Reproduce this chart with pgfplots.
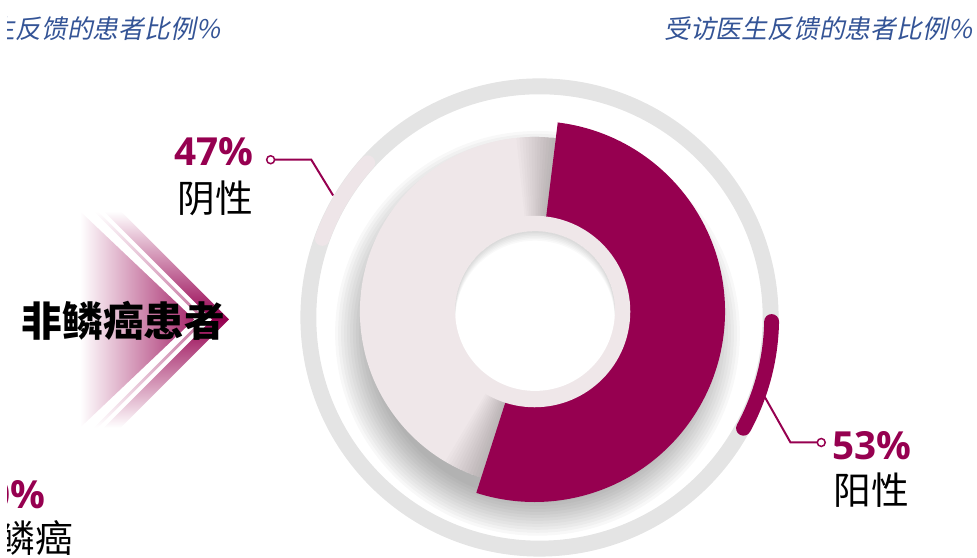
\documentclass[border=0pt]{standalone}
\usepackage{pgfplots}
\pgfplotsset{compat=1.18}
\usepackage{pgfplotstable}
\usepackage{fontspec}
\setmainfont{Open Sans}
\newfontfamily\cjk{Noto Sans CJK SC}
\newfontfamily\cjkit{Noto Sans CJK SC}[FakeSlant=0.2]
\definecolor{mag}{RGB}{150,0,80}
\definecolor{lightseg}{RGB}{239,231,233}
\definecolor{ringgray}{RGB}{228,228,228}
\definecolor{lightarc}{RGB}{238,229,232}
\definecolor{titleblue}{RGB}{52,84,150}

\pgfplotstableread{
group value
pos 53
neg 47
}\pietable

\begin{document}
\pgfplotstablegetelem{0}{value}\of\pietable \let\posval\pgfplotsretval
\pgfplotstablegetelem{1}{value}\of\pietable \let\negval\pgfplotsretval
\pgfmathsetmacro\startA{83}
\pgfmathsetmacro\endD{\startA-3.6*\posval}
\pgfmathsetmacro\endL{\startA+3.6*\negval}
\begin{tikzpicture}[x=1pt,y=1pt]
\useasboundingbox (0,0) rectangle (977,-562);
\clip (0,0) rectangle (977,-562);
\begin{axis}[at={(0,0)},anchor=origin,width=977pt,height=562pt,scale only axis,
  xmin=0,xmax=977,ymin=0,ymax=562,y dir=reverse,hide axis,clip=false]
% outer ring
\draw[ringgray,line width=16pt] (536,320) circle[radius=233pt];
\draw[lightarc,line width=15pt,line cap=round] (536,320) ++(138:233pt) arc[start angle=138,end angle=160,radius=233pt];
\draw[mag,line width=15pt,line cap=round] (536,320) ++(-1:234pt) arc[start angle=-1,end angle=-28.5,radius=234pt];
% soft shadow
\pgfplotsinvokeforeach{168,171,...,204}{\fill[black,opacity=0.026] (534,336) circle[radius=#1pt];}
% light segment
\fill[lightseg] (531,314) -- ++(\startA:176pt) arc[start angle=\startA,end angle=\endL,radius=176pt] -- cycle;
\pgfplotsinvokeforeach{1,...,13}{
  \fill[black,opacity=0.017] (531,314) -- ++(\startA:176pt) arc[start angle=\startA,end angle=\startA+#1,radius=176pt] -- cycle;
  \fill[black,opacity=0.017] (531,314) -- ++(\endL-#1:176pt) arc[start angle=\endL-#1,end angle=\endL,radius=176pt] -- cycle;}
% dark segment
\fill[mag] (531,314) -- ++(\startA:192pt) arc[start angle=\startA,end angle=\endD,radius=192pt] -- cycle;
% inner rings
\fill[lightseg] (531,314) circle[radius=96.5pt];
\fill[white] (531.5,313.5) circle[radius=80.5pt];
\begin{scope}
\clip (531.5,313.5) circle[radius=80.5pt];
\pgfplotsinvokeforeach{1,...,6}{\fill[black,opacity=0.025,even odd rule] (531.5,313.5) circle[radius=95pt] (531.5,{313.5+#1*1.6}) circle[radius=80.5pt];}
\end{scope}
% leader lines
\draw[mag,line width=2pt] (269,161) -- (306,161) -- (328,197);
\draw[mag,line width=1.5pt,fill=white] (265,161) circle[radius=4pt];
\draw[mag,line width=2pt] (763,400) -- (789,446) -- (816,446);
\draw[mag,line width=1.5pt,fill=white] (820,446) circle[radius=4pt];
% chevron
\shade[left color=white,right color=mag!85] (73,213) -- (188,322) -- (73,431) -- cycle;
\shade[top color=white,bottom color=white,middle color=mag!55] (87,213) -- (196,322) -- (87,431) -- (91,431) -- (200,322) -- (91,213) -- cycle;
\shade[top color=white,bottom color=white,middle color=mag] (97,213) -- (206,322) -- (97,431) -- (114,431) -- (223,322) -- (114,213) -- cycle;
% texts
\node[anchor=base west,inner sep=0,text=mag,font=\bfseries\fontsize{39}{42}\selectfont] at (168,167) {47\%};
\node[anchor=base west,inner sep=0,font=\cjk\fontsize{38}{40}\selectfont] at (171,214) {阴性};
\node[anchor=base west,inner sep=0,text=mag,font=\bfseries\fontsize{39}{42}\selectfont] at (831,463) {53\%};
\node[anchor=base west,inner sep=0,font=\cjk\fontsize{38}{40}\selectfont] at (832,509) {阳性};
\node[anchor=base west,inner sep=0,font=\cjk\bfseries\fontsize{41}{44}\selectfont] at (14,339) {非鳞癌患者};
\node[anchor=base east,inner sep=0,text=mag,font=\bfseries\fontsize{39}{42}\selectfont] at (38,513) {60\%};
\node[anchor=base east,inner sep=0,font=\cjk\fontsize{38}{40}\selectfont] at (66,557) {非鳞癌};
\node[anchor=base east,inner sep=0,text=titleblue,font=\cjkit\fontsize{26}{28}\selectfont] at (972,39) {受访医生反馈的患者比例\%};
\node[anchor=base east,inner sep=0,text=titleblue,font=\cjkit\fontsize{26}{28}\selectfont] at (214,39) {受访医生反馈的患者比例\%};
\end{axis}
\end{tikzpicture}
\end{document}
